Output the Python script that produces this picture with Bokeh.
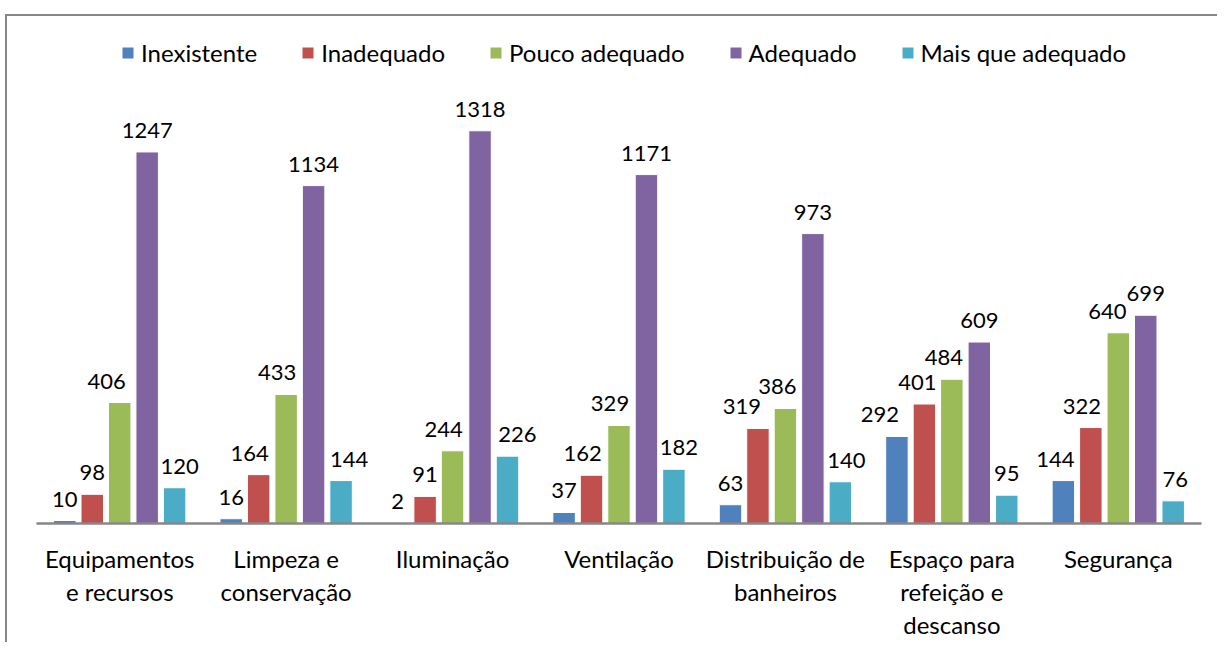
from bokeh.plotting import figure
from bokeh.models import FactorRange, Range1d, ColumnDataSource, Legend, LegendItem, Spacer
from bokeh.layouts import column, row
from bokeh.transform import dodge
from bokeh.core.properties import value
from bokeh.embed import file_html
from bokeh.resources import INLINE

categories = ["Equipamentos\ne recursos", "Limpeza e\nconservação", "Iluminação", "Ventilação",
              "Distribuição de\nbanheiros", "Espaço para\nrefeição e\ndescanso", "Segurança"]
series = ["Inexistente", "Inadequado", "Pouco adequado", "Adequado", "Mais que adequado"]
inexistente = [10, 16, 2, 37, 63, 292, 144]
inadequado = [98, 164, 91, 162, 319, 401, 322]
pouco_adequado = [406, 433, 244, 329, 386, 484, 640]
adequado = [1247, 1134, 1318, 1171, 973, 609, 699]
mais_que_adequado = [120, 144, 226, 182, 140, 95, 76]
values = [inexistente, inadequado, pouco_adequado, adequado, mais_que_adequado]

# styling
colors = ["#4F81BD", "#C0504D", "#9BBB59", "#8064A2", "#4BACC6"]
offsets = [-0.33, -0.165, 0.0, 0.165, 0.33]
# horizontal nudges (px) of the value labels, as the original avoids overlaps
label_dx = [
    [0, 0, 0, 0, 0, -17, -8],
    [0, -9, 0, -9, -16, -7, -9],
    [-13, -9, -9, -9, -8, -8, -11],
    [0, 0, 0, 0, 0, 0, 0],
    [5, 8, 10, 5, 6, 0, 2],
]

FONT = "Lato"
FRAME_H = 497

p = figure(x_range=FactorRange(*categories), y_range=Range1d(0, 1668),
           width=1212, height=628, output_backend="svg", toolbar_location=None,
           min_border_left=29, min_border_right=18, min_border_top=10, min_border_bottom=121)
p.styles = {"border-left": "2px solid #888888", "border-top": "2px solid #888888"}
p.outline_line_color = None
p.xgrid.visible = False
p.ygrid.visible = False
p.yaxis.visible = False
p.background_fill_color = "white"
p.border_fill_color = "white"

ax = p.xaxis[0]
ax.axis_line_color = "#878787"
ax.axis_line_width = 2.5
ax.major_tick_line_color = None
ax.minor_tick_line_color = None
ax.major_tick_out = 0
ax.major_tick_in = 0
ax.major_label_standoff = 20
ax.major_label_text_font = FONT
ax.major_label_text_font_size = "24px"
ax.major_label_text_color = "black"
ax.major_label_text_line_height = 1.15

items = []
for name, vals, col, off, dx in zip(series, values, colors, offsets, label_dx):
    src = ColumnDataSource(dict(cat=categories, val=vals, lab=[str(v) for v in vals], dx=dx))
    r = p.vbar(x=dodge("cat", off, range=p.x_range), top="val", width=0.135, source=src,
               fill_color=col, line_color="white", line_width=1)
    p.text(x=dodge("cat", off, range=p.x_range), y="val", text="lab", source=src,
           x_offset="dx", text_align="center", text_baseline="bottom", y_offset=-14,
           text_font=value(FONT), text_font_size="22px", text_color="black")
    items.append(LegendItem(label=name, renderers=[r]))

legend = Legend(items=items, orientation="horizontal", location=(84, FRAME_H - 12 - 29),
                margin=0, padding=0, spacing=43, label_standoff=6,
                glyph_width=15, glyph_height=15,
                label_text_font=FONT, label_text_font_size="24px", label_text_color="black",
                border_line_color=None, background_fill_alpha=0)
p.add_layout(legend)

layout = column(Spacer(height=14), row(Spacer(width=5), p))
open("out.html", "w").write(file_html(layout, INLINE))
